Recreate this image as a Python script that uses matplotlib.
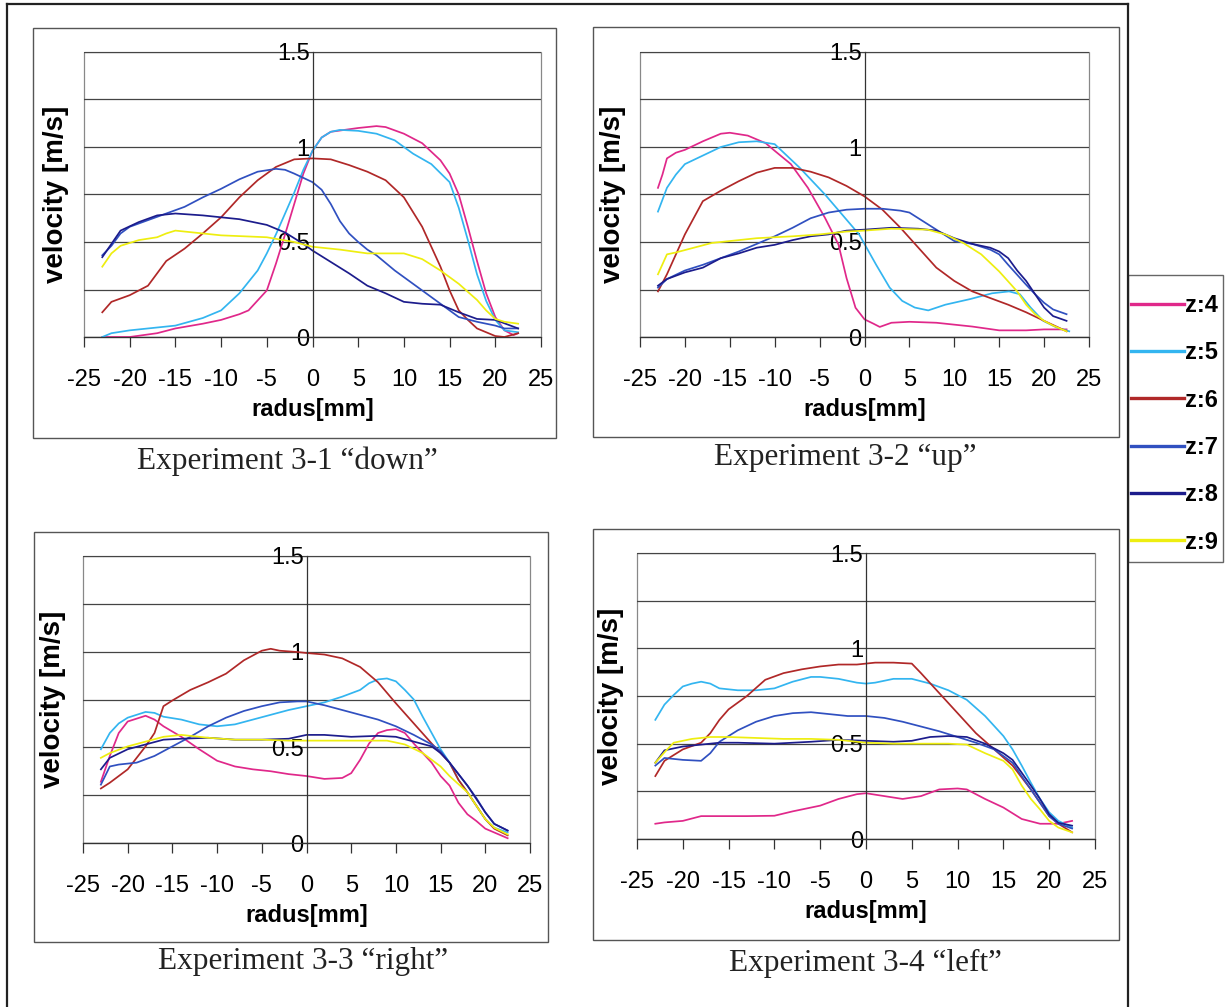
import matplotlib.pyplot as plt
from matplotlib.patches import Rectangle
from matplotlib.lines import Line2D

# ---- data (radius [mm], velocity [m/s]) ----
labels = ["z:4", "z:5", "z:6", "z:7", "z:8", "z:9"]
colors = ["#e0288a", "#33b5f0", "#b02828", "#3050c0", "#1c1c8c", "#eeee10"]

# Experiment 3-1 "down"
down_r4 = [-23, -20, -17, -15, -12, -10, -8, -7, -5, -4, -3, -2, -1, 0, 1, 2, 5, 7, 8, 10, 12, 14, 15, 16, 17, 18, 19, 20, 21, 22, 22.5]
down_v4 = [0.0, 0.0, 0.02, 0.045, 0.07, 0.09, 0.12, 0.14, 0.245, 0.386, 0.54, 0.70, 0.86, 0.98, 1.05, 1.08, 1.10, 1.11, 1.105, 1.07, 1.02, 0.93, 0.86, 0.75, 0.58, 0.40, 0.23, 0.105, 0.035, 0.01, 0.02]
down_r5 = [-23, -22, -20, -15, -12, -10, -8, -6, -5, -4, -3, -2, -1, 0, 1, 2, 3, 5, 7, 9, 11, 13, 15, 16, 17, 18, 19, 20, 21, 22.5]
down_v5 = [0.0, 0.02, 0.035, 0.06, 0.1, 0.14, 0.23, 0.35, 0.44, 0.54, 0.65, 0.76, 0.88, 0.98, 1.05, 1.08, 1.09, 1.085, 1.07, 1.035, 0.965, 0.91, 0.815, 0.68, 0.51, 0.33, 0.19, 0.09, 0.035, 0.025]
down_r6 = [-23, -22, -20, -18, -16, -14, -12, -10, -8, -6, -4, -2, 0, 2, 4, 6, 8, 10, 12, 14, 15, 16, 17, 18, 20, 21, 22.5]
down_v6 = [0.13, 0.185, 0.22, 0.27, 0.40, 0.465, 0.545, 0.63, 0.735, 0.825, 0.895, 0.935, 0.94, 0.935, 0.905, 0.87, 0.825, 0.735, 0.58, 0.37, 0.245, 0.14, 0.09, 0.045, 0.005, 0.0, 0.02]
down_r7 = [-23, -22, -21, -20, -18, -16, -14, -12, -10, -8, -6, -4, -3, -2, 0, 1, 2, 3, 4, 5, 6, 7, 9, 11, 13, 15, 16, 18, 20, 21, 22.5]
down_v7 = [0.43, 0.48, 0.545, 0.58, 0.615, 0.65, 0.685, 0.735, 0.78, 0.83, 0.87, 0.885, 0.88, 0.86, 0.815, 0.775, 0.7, 0.61, 0.545, 0.5, 0.46, 0.43, 0.35, 0.28, 0.21, 0.14, 0.105, 0.08, 0.06, 0.045, 0.045]
down_r8 = [-23, -22, -21, -19, -17, -15, -12, -8, -5, -3, -1, 0, 2, 4, 6, 8, 10, 12, 14, 16, 18, 20, 22.5]
down_v8 = [0.42, 0.49, 0.56, 0.605, 0.64, 0.65, 0.64, 0.62, 0.59, 0.55, 0.49, 0.455, 0.395, 0.335, 0.27, 0.23, 0.185, 0.175, 0.17, 0.13, 0.095, 0.09, 0.045]
down_r9 = [-23, -22, -21, -19, -17, -16, -15, -13, -10, -5, -2, 0, 3, 6, 10, 12, 14, 16, 18, 19, 20, 21, 22.5]
down_v9 = [0.37, 0.44, 0.48, 0.51, 0.525, 0.545, 0.56, 0.55, 0.535, 0.525, 0.5, 0.475, 0.46, 0.44, 0.44, 0.41, 0.35, 0.28, 0.195, 0.14, 0.095, 0.08, 0.07]

# Experiment 3-2 "up"
up_r4 = [-23, -22.5, -22, -21, -20, -18, -16, -15, -13, -11, -10, -8.2, -6.3, -4.4, -2.9, -2, -1, 0, 1, 1.7, 3, 5, 8, 10, 12, 15, 18, 20, 22.5]
up_v4 = [0.785, 0.855, 0.94, 0.97, 0.985, 1.03, 1.07, 1.075, 1.06, 1.02, 0.98, 0.91, 0.785, 0.627, 0.487, 0.31, 0.154, 0.093, 0.07, 0.053, 0.075, 0.08, 0.075, 0.065, 0.055, 0.035, 0.035, 0.04, 0.04]
up_r5 = [-23, -22, -21, -20, -18, -16, -14, -12, -10, -7.2, -4.4, -2.5, -0.6, 1.3, 2.8, 4.2, 5.6, 7.1, 9, 11.8, 14.2, 16.1, 17.3, 18.5, 19.9, 21.4, 22.8]
up_v5 = [0.66, 0.785, 0.855, 0.91, 0.955, 1.0, 1.025, 1.03, 1.015, 0.89, 0.75, 0.645, 0.54, 0.38, 0.26, 0.19, 0.155, 0.14, 0.17, 0.2, 0.23, 0.24, 0.225, 0.155, 0.085, 0.05, 0.03]
up_r6 = [-23, -22, -21, -20, -18, -16, -14, -12, -10, -8, -6, -4, -2, 0, 2, 4, 6, 8, 10, 12, 14, 16, 18, 20, 22.5]
up_v6 = [0.24, 0.33, 0.435, 0.54, 0.715, 0.77, 0.82, 0.865, 0.89, 0.89, 0.87, 0.84, 0.795, 0.74, 0.67, 0.575, 0.47, 0.365, 0.295, 0.24, 0.205, 0.17, 0.13, 0.085, 0.03]
up_r7 = [-23, -22, -20, -18, -16, -14, -12, -10, -8, -6, -4, -2, 0, 2, 4, 5, 6, 8, 10, 12, 14, 15, 16, 18, 19, 20, 21, 22.5]
up_v7 = [0.26, 0.305, 0.35, 0.38, 0.415, 0.45, 0.49, 0.53, 0.575, 0.625, 0.655, 0.67, 0.675, 0.675, 0.665, 0.655, 0.625, 0.565, 0.505, 0.49, 0.46, 0.435, 0.38, 0.275, 0.225, 0.18, 0.145, 0.12]
up_r8 = [-23, -22, -20, -18, -16, -14, -12, -10, -8, -6, -4, -2, 0, 3, 6, 8, 10, 12, 14, 15, 16, 17, 18, 19, 20, 21, 22.5]
up_v8 = [0.27, 0.305, 0.34, 0.365, 0.415, 0.44, 0.47, 0.485, 0.51, 0.53, 0.54, 0.56, 0.565, 0.575, 0.57, 0.56, 0.52, 0.49, 0.47, 0.45, 0.415, 0.35, 0.295, 0.225, 0.155, 0.11, 0.085]
up_r9 = [-23, -22, -21, -19, -17, -15, -12, -8, -5, -2, 0, 3, 7, 9, 11, 13, 15, 17, 18, 19, 20, 21, 22.5]
up_v9 = [0.33, 0.435, 0.445, 0.47, 0.495, 0.505, 0.52, 0.53, 0.54, 0.555, 0.56, 0.57, 0.565, 0.54, 0.495, 0.435, 0.345, 0.24, 0.17, 0.12, 0.085, 0.06, 0.03]

# Experiment 3-3 "right"
right_r4 = [-23, -22, -21, -20, -19, -18, -17, -16, -14, -12, -10, -8, -6, -4, -2, 0, 2, 4, 5, 6, 7, 8, 9, 10, 11, 12, 14, 15, 16, 17, 18, 19, 20, 21, 22.5]
right_v4 = [0.32, 0.455, 0.575, 0.635, 0.65, 0.665, 0.645, 0.61, 0.555, 0.49, 0.43, 0.4, 0.385, 0.375, 0.36, 0.35, 0.335, 0.34, 0.365, 0.435, 0.52, 0.575, 0.59, 0.595, 0.575, 0.52, 0.42, 0.35, 0.3, 0.21, 0.15, 0.115, 0.075, 0.055, 0.025]
right_r5 = [-23, -22, -21, -20, -18, -17, -16, -14, -12, -10, -8, -6, -4, -2, 0, 2, 4, 6, 7, 8, 9, 10, 11, 12, 13, 14, 15, 16, 17, 18, 19, 20, 21, 22.5]
right_v5 = [0.49, 0.575, 0.625, 0.655, 0.685, 0.68, 0.66, 0.645, 0.62, 0.61, 0.62, 0.645, 0.67, 0.695, 0.715, 0.735, 0.765, 0.8, 0.835, 0.855, 0.86, 0.845, 0.8, 0.75, 0.66, 0.575, 0.49, 0.42, 0.33, 0.265, 0.195, 0.125, 0.08, 0.055]
right_r6 = [-23, -22, -20, -18, -17, -16, -15, -13, -11, -9, -7, -5, -4, -3, -1, 0, 2, 4, 6, 8, 10, 12, 14, 16, 17, 18, 19, 20, 21, 22.5]
right_v6 = [0.285, 0.315, 0.385, 0.505, 0.575, 0.715, 0.745, 0.8, 0.84, 0.885, 0.955, 1.005, 1.015, 1.005, 0.998, 0.993, 0.985, 0.965, 0.92, 0.84, 0.73, 0.625, 0.52, 0.42, 0.33, 0.265, 0.195, 0.125, 0.075, 0.04]
right_r7 = [-23, -22, -21, -19, -17, -15, -13, -11, -9, -7, -5, -3, -1, 0, 2, 4, 6, 8, 10, 12, 14, 15, 16, 18, 19, 20, 21, 22.5]
right_v7 = [0.305, 0.4, 0.41, 0.42, 0.455, 0.505, 0.555, 0.61, 0.655, 0.69, 0.715, 0.735, 0.74, 0.74, 0.72, 0.695, 0.67, 0.645, 0.61, 0.565, 0.515, 0.48, 0.42, 0.3, 0.235, 0.16, 0.1, 0.065]
right_r8 = [-23, -22, -20, -18, -16, -14, -11, -8, -5, -2, 0, 2, 5, 8, 10, 12, 14, 15, 16, 18, 19, 20, 21, 22.5]
right_v8 = [0.385, 0.445, 0.49, 0.515, 0.54, 0.545, 0.55, 0.54, 0.54, 0.545, 0.565, 0.565, 0.555, 0.56, 0.555, 0.53, 0.505, 0.47, 0.42, 0.3, 0.23, 0.16, 0.1, 0.065]
right_r9 = [-23, -22, -20, -18, -16, -14, -11, -8, -5, -2, 0, 3, 6, 9, 11, 13, 15, 16, 18, 19, 20, 21, 22.5]
right_v9 = [0.445, 0.47, 0.505, 0.53, 0.555, 0.565, 0.55, 0.54, 0.54, 0.535, 0.535, 0.535, 0.535, 0.535, 0.515, 0.47, 0.4, 0.35, 0.265, 0.195, 0.125, 0.08, 0.045]

# Experiment 3-4 "left"
left_r4 = [-23, -22, -20, -18, -16, -13, -10, -8, -5, -3, -1, 0, 2, 4, 6, 8, 10, 11, 13, 15, 17, 19, 21, 22.5]
left_v4 = [0.08, 0.087, 0.095, 0.12, 0.12, 0.12, 0.122, 0.145, 0.175, 0.21, 0.235, 0.24, 0.225, 0.21, 0.225, 0.26, 0.265, 0.26, 0.21, 0.165, 0.105, 0.08, 0.08, 0.095]
left_r5 = [-23, -22, -21, -20, -19, -18, -17, -16, -14, -12, -10, -8, -6, -5, -3, -1, 0, 1, 3, 5, 7, 9, 11, 13, 15, 16, 17, 18, 19, 20, 21, 22.5]
left_v5 = [0.625, 0.705, 0.755, 0.8, 0.815, 0.825, 0.815, 0.79, 0.78, 0.78, 0.79, 0.825, 0.85, 0.85, 0.84, 0.82, 0.815, 0.82, 0.84, 0.84, 0.815, 0.78, 0.73, 0.645, 0.54, 0.47, 0.385, 0.295, 0.21, 0.14, 0.095, 0.06]
left_r6 = [-23, -22, -20, -18, -17, -16, -15, -13, -11, -9, -7, -5, -3, -1, 1, 3, 5, 6, 8, 10, 12, 14, 16, 18, 19, 20, 21, 22.5]
left_v6 = [0.33, 0.41, 0.47, 0.505, 0.555, 0.625, 0.68, 0.75, 0.835, 0.87, 0.89, 0.905, 0.915, 0.915, 0.925, 0.925, 0.92, 0.87, 0.765, 0.66, 0.555, 0.47, 0.385, 0.26, 0.19, 0.12, 0.08, 0.035]
left_r7 = [-23, -22, -20, -18, -17, -16, -14, -12, -10, -8, -6, -4, -2, 0, 2, 4, 6, 8, 10, 12, 14, 16, 18, 19, 20, 21, 22.5]
left_v7 = [0.385, 0.425, 0.415, 0.41, 0.45, 0.51, 0.57, 0.615, 0.645, 0.66, 0.665, 0.655, 0.645, 0.645, 0.635, 0.615, 0.59, 0.565, 0.535, 0.505, 0.47, 0.4, 0.26, 0.19, 0.12, 0.08, 0.055]
left_r8 = [-23, -22, -20, -18, -16, -14, -10, -6, -3, 0, 3, 5, 7, 9, 11, 13, 15, 16, 18, 19, 20, 21, 22.5]
left_v8 = [0.4, 0.465, 0.485, 0.495, 0.505, 0.505, 0.5, 0.51, 0.52, 0.515, 0.51, 0.515, 0.535, 0.54, 0.535, 0.5, 0.45, 0.415, 0.28, 0.21, 0.13, 0.085, 0.07]
left_r9 = [-23, -22, -21, -19, -17, -15, -12, -9, -6, -3, 0, 3, 6, 9, 11, 13, 15, 16, 17, 18, 19, 20, 21, 22.5]
left_v9 = [0.4, 0.455, 0.505, 0.525, 0.535, 0.535, 0.53, 0.525, 0.525, 0.52, 0.505, 0.5, 0.5, 0.5, 0.495, 0.45, 0.41, 0.365, 0.28, 0.21, 0.155, 0.095, 0.06, 0.035]

panels = [
    ("Experiment 3-1 \u201cdown\u201d",
     [(down_r4, down_v4), (down_r5, down_v5), (down_r6, down_v6), (down_r7, down_v7), (down_r8, down_v8), (down_r9, down_v9)]),
    ("Experiment 3-2 \u201cup\u201d",
     [(up_r4, up_v4), (up_r5, up_v5), (up_r6, up_v6), (up_r7, up_v7), (up_r8, up_v8), (up_r9, up_v9)]),
    ("Experiment 3-3 \u201cright\u201d",
     [(right_r4, right_v4), (right_r5, right_v5), (right_r6, right_v6), (right_r7, right_v7), (right_r8, right_v8), (right_r9, right_v9)]),
    ("Experiment 3-4 \u201cleft\u201d",
     [(left_r4, left_v4), (left_r5, left_v5), (left_r6, left_v6), (left_r7, left_v7), (left_r8, left_v8), (left_r9, left_v9)]),
]

# ---- layout in pixels (left, top, right, bottom) ----
W, H = 1229, 1007
plot_boxes = [(84, 52, 541, 337), (640, 52, 1089, 337), (83, 556, 530, 843), (637, 553, 1095, 839)]
chart_boxes = [(33, 28, 556, 438), (593, 27, 1119, 437), (34, 532, 548, 942), (593, 529, 1119, 940)]
caption_pos = [(287, 461), (845, 458), (303, 962), (865, 963)]
ylabel_x = [-0.033, -0.031, -0.038, -0.028]

narrow = ["Liberation Sans Narrow", "Liberation Sans", "DejaVu Sans"]
sans = ["Liberation Sans", "DejaVu Sans"]
serif = ["Liberation Serif", "DejaVu Serif"]


def fx(x):
    return x / W


def fy(y):
    return 1 - y / H


def rect(box):
    l, t, r, b = box
    return [fx(l), fy(b), (r - l) / W, (b - t) / H]


fig = plt.figure(figsize=(W / 100, H / 100), dpi=100)

# outer frame
for xs, ys in [((7, 1128), (4, 4)), ((7, 7), (4, 1007)), ((1128, 1128), (4, 1007))]:
    fig.add_artist(Line2D([fx(xs[0]), fx(xs[1])], [fy(ys[0]), fy(ys[1])],
                          transform=fig.transFigure, color="#222222", lw=1.6))

for i, (caption, series) in enumerate(panels):
    l, t, r, b = chart_boxes[i]
    fig.add_artist(Rectangle((fx(l), fy(b)), (r - l) / W, (b - t) / H, transform=fig.transFigure,
                             fill=False, ec="#555555", lw=1.0))

    ax = fig.add_axes(rect(plot_boxes[i]))
    for (rr, vv), c, lab in zip(series, colors, labels):
        ax.plot(rr, vv, color=c, lw=1.25, label=lab)

    ax.set_xlim(-25, 25)
    ax.set_ylim(0, 1.5)
    ax.spines["left"].set_position(("data", 0))
    ax.spines["left"].set_color("#333333")
    ax.spines["left"].set_linewidth(0.9)
    ax.spines["bottom"].set_color("#333333")
    ax.spines["bottom"].set_linewidth(0.9)
    for s in ("top", "right"):
        ax.spines[s].set_visible(False)
    ax.add_patch(Rectangle((0, 0), 1, 1, transform=ax.transAxes, fill=False,
                           ec="#888888", lw=0.9, clip_on=False, zorder=0.5))

    ax.set_yticks([0, 0.25, 0.5, 0.75, 1.0, 1.25, 1.5])
    ax.set_yticklabels(["0", "", "0.5", "", "1", "", "1.5"], fontfamily=narrow, fontsize=17)
    ax.yaxis.grid(True, color="#444444", lw=0.9)
    ax.set_axisbelow(True)
    ax.tick_params(axis="y", length=0, pad=2)

    ax.set_xticks(range(-25, 30, 5))
    ax.set_xticklabels([str(v) for v in range(-25, 30, 5)], fontfamily=narrow, fontsize=17)
    ax.tick_params(axis="x", direction="out", length=7, width=0.9, color="#333333", pad=16)

    ax.set_xlabel("radus[mm]", fontfamily=narrow, fontsize=17, fontweight="bold", labelpad=5)
    ax.set_ylabel("velocity [m/s]", fontfamily=sans, fontsize=20, fontweight="bold")
    ax.yaxis.set_label_coords(ylabel_x[i], 0.5)

    cx, cy = caption_pos[i]
    fig.text(fx(cx), fy(cy), caption, fontfamily=serif, fontsize=22.5, color="#222222",
             ha="center", va="center")

# legend: frame drawn separately, entries placed without a frame
fig.add_artist(Rectangle((fx(1128), fy(562)), (1223 - 1128) / W, (562 - 275) / H,
                         transform=fig.transFigure, fill=False, ec="#666666", lw=1.0))
handles = [Line2D([], [], color=c, lw=2.4) for c in colors]
leg = fig.legend(handles, labels, loc="upper left", bbox_to_anchor=(fx(1131), fy(294)),
                 bbox_transform=fig.transFigure, prop={"family": sans, "size": 17, "weight": "bold"},
                 frameon=False, handlelength=2.25, handletextpad=0.05, labelspacing=1.03,
                 borderpad=0, borderaxespad=0)

fig.savefig("out.png", dpi=100)
